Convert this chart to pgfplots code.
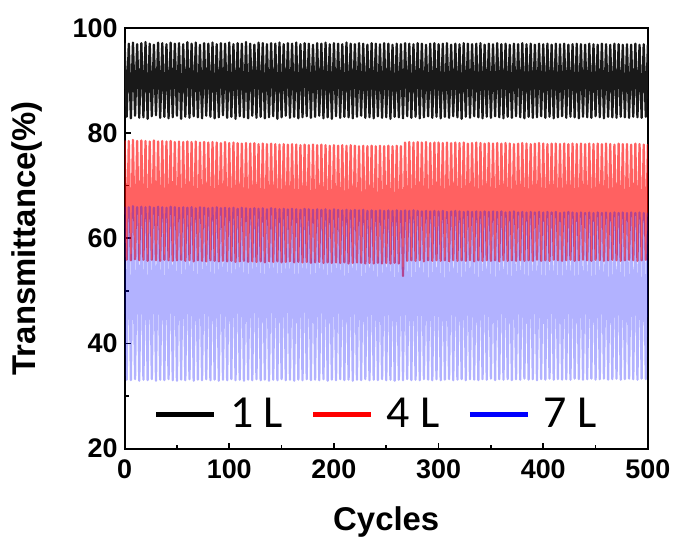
\documentclass[border=0pt]{standalone}
\usepackage{pgfplots}
\usepackage{pgfplotstable}
\pgfplotsset{compat=1.18}
\usepackage{fontspec}
\setmainfont{Liberation Sans}
\newfontfamily\carlito{Carlito}

\pgfplotstableread[row sep=\\]{x y\\
0 97.1\\ 2 83.1\\ 4 97.0\\ 6 82.8\\ 8 97.2\\ 10 83.3\\ 12 96.9\\ 14 82.9\\ 16 97.1\\ 18 83.0\\
20 97.3\\ 22 82.7\\ 24 97.0\\ 26 83.2\\ 28 96.8\\ 30 83.4\\ 32 97.2\\ 34 82.9\\ 36 97.1\\ 38 83.1\\
40 96.9\\ 42 82.8\\ 44 97.2\\ 46 83.0\\ 48 97.0\\ 50 83.3\\ 52 97.1\\ 54 82.7\\ 56 96.9\\ 58 83.1\\
60 97.3\\ 62 82.9\\ 64 97.0\\ 66 83.2\\ 68 97.2\\ 70 83.0\\ 72 96.8\\ 74 82.8\\ 76 97.1\\ 78 83.3\\
80 97.0\\ 82 83.1\\ 84 97.2\\ 86 82.8\\ 88 96.9\\ 90 83.0\\ 92 97.1\\ 94 83.4\\ 96 97.0\\ 98 82.9\\
100 97.2\\ 102 83.1\\ 104 96.9\\ 106 82.7\\ 108 97.1\\ 110 83.2\\ 112 97.0\\ 114 83.0\\ 116 97.3\\ 118 82.8\\
120 97.0\\ 122 83.3\\ 124 96.8\\ 126 82.9\\ 128 97.2\\ 130 83.1\\ 132 97.1\\ 134 82.8\\ 136 96.9\\ 138 83.0\\
140 97.1\\ 142 83.2\\ 144 97.0\\ 146 82.7\\ 148 97.2\\ 150 83.0\\ 152 96.9\\ 154 83.3\\ 156 97.1\\ 158 82.9\\
160 97.0\\ 162 83.1\\ 164 97.2\\ 166 82.8\\ 168 96.9\\ 170 83.0\\ 172 97.1\\ 174 83.2\\ 176 97.0\\ 178 82.9\\
180 96.8\\ 182 83.1\\ 184 97.1\\ 186 83.3\\ 188 97.0\\ 190 82.8\\ 192 97.2\\ 194 83.0\\ 196 96.9\\ 198 82.7\\
200 97.1\\ 202 83.2\\ 204 97.0\\ 206 82.9\\ 208 96.9\\ 210 83.1\\ 212 97.2\\ 214 83.0\\ 216 97.0\\ 218 82.8\\
220 96.9\\ 222 83.1\\ 224 97.1\\ 226 83.3\\ 228 97.0\\ 230 82.9\\ 232 96.8\\ 234 83.0\\ 236 97.1\\ 238 82.8\\
240 97.0\\ 242 83.2\\ 244 96.9\\ 246 82.9\\ 248 97.1\\ 250 83.0\\ 252 97.0\\ 254 82.7\\ 256 96.8\\ 258 83.1\\
260 97.0\\ 262 83.0\\ 264 96.9\\ 266 82.8\\ 268 97.1\\ 270 83.2\\ 272 97.0\\ 274 82.9\\ 276 96.9\\ 278 83.1\\
280 97.1\\ 282 82.8\\ 284 97.0\\ 286 83.0\\ 288 96.8\\ 290 83.2\\ 292 97.0\\ 294 82.9\\ 296 97.1\\ 298 83.1\\
300 96.9\\ 302 82.8\\ 304 97.0\\ 306 83.1\\ 308 97.1\\ 310 82.9\\ 312 96.8\\ 314 83.2\\ 316 97.0\\ 318 83.0\\
320 96.9\\ 322 82.7\\ 324 97.1\\ 326 83.1\\ 328 97.0\\ 330 82.9\\ 332 96.9\\ 334 83.2\\ 336 97.0\\ 338 83.0\\
340 97.1\\ 342 82.8\\ 344 96.8\\ 346 83.1\\ 348 97.0\\ 350 82.9\\ 352 96.9\\ 354 83.2\\ 356 97.1\\ 358 83.0\\
360 96.9\\ 362 82.8\\ 364 97.0\\ 366 83.1\\ 368 96.8\\ 370 82.9\\ 372 97.0\\ 374 83.2\\ 376 96.9\\ 378 83.0\\
380 97.1\\ 382 82.8\\ 384 96.9\\ 386 83.1\\ 388 97.0\\ 390 82.9\\ 392 96.8\\ 394 83.0\\ 396 97.0\\ 398 83.2\\
400 96.9\\ 402 82.9\\ 404 97.0\\ 406 83.1\\ 408 96.8\\ 410 82.8\\ 412 97.0\\ 414 83.0\\ 416 96.9\\ 418 83.2\\
420 97.0\\ 422 82.9\\ 424 96.8\\ 426 83.1\\ 428 96.9\\ 430 83.0\\ 432 97.0\\ 434 82.8\\ 436 96.9\\ 438 83.1\\
440 96.8\\ 442 83.0\\ 444 97.0\\ 446 82.9\\ 448 96.9\\ 450 83.2\\ 452 96.8\\ 454 83.0\\ 456 97.0\\ 458 82.8\\
460 96.9\\ 462 83.1\\ 464 96.8\\ 466 83.0\\ 468 97.0\\ 470 82.9\\ 472 96.9\\ 474 83.1\\ 476 96.8\\ 478 83.0\\
480 96.9\\ 482 82.9\\ 484 96.8\\ 486 83.1\\ 488 97.0\\ 490 83.0\\ 492 96.8\\ 494 82.9\\ 496 96.9\\ 498 83.1\\ 500 96.8\\
}\tabA

\pgfplotstableread[row sep=\\]{x y\\
0 78.6\\ 2 55.9\\ 4 78.5\\ 6 55.8\\ 8 78.7\\ 10 56.0\\ 12 78.5\\ 14 55.8\\ 16 78.6\\ 18 55.9\\
20 78.5\\ 22 55.7\\ 24 78.4\\ 26 55.9\\ 28 78.6\\ 30 55.8\\ 32 78.4\\ 34 55.7\\ 36 78.5\\ 38 55.9\\
40 78.4\\ 42 55.8\\ 44 78.5\\ 46 55.7\\ 48 78.3\\ 50 55.8\\ 52 78.4\\ 54 55.9\\ 56 78.3\\ 58 55.7\\
60 78.4\\ 62 55.8\\ 64 78.3\\ 66 55.6\\ 68 78.4\\ 70 55.8\\ 72 78.2\\ 74 55.7\\ 76 78.3\\ 78 55.6\\
80 78.2\\ 82 55.8\\ 84 78.3\\ 86 55.7\\ 88 78.2\\ 90 55.6\\ 92 78.1\\ 94 55.7\\ 96 78.3\\ 98 55.6\\
100 78.1\\ 102 55.7\\ 104 78.2\\ 106 55.5\\ 108 78.1\\ 110 55.6\\ 112 78.0\\ 114 55.7\\ 116 78.1\\ 118 55.5\\
120 78.0\\ 122 55.6\\ 124 78.1\\ 126 55.5\\ 128 77.9\\ 130 55.6\\ 132 78.0\\ 134 55.4\\ 136 77.9\\ 138 55.6\\
140 78.0\\ 142 55.5\\ 144 77.9\\ 146 55.6\\ 148 77.8\\ 150 55.4\\ 152 77.9\\ 154 55.5\\ 156 77.8\\ 158 55.6\\
160 77.9\\ 162 55.4\\ 164 77.8\\ 166 55.5\\ 168 77.7\\ 170 55.4\\ 172 77.8\\ 174 55.5\\ 176 77.7\\ 178 55.3\\
180 77.8\\ 182 55.4\\ 184 77.7\\ 186 55.5\\ 188 77.8\\ 190 55.3\\ 192 77.7\\ 194 55.4\\ 196 77.6\\ 198 55.3\\
200 77.7\\ 202 55.4\\ 204 77.6\\ 206 55.3\\ 208 77.7\\ 210 55.4\\ 212 77.6\\ 214 55.2\\ 216 77.7\\ 218 55.3\\
220 77.6\\ 222 55.4\\ 224 77.5\\ 226 55.3\\ 228 77.6\\ 230 55.2\\ 232 77.5\\ 234 55.3\\ 236 77.6\\ 238 55.2\\
240 77.5\\ 242 55.3\\ 244 77.6\\ 246 55.2\\ 248 77.5\\ 250 55.3\\ 252 77.6\\ 254 55.2\\ 256 77.5\\ 258 55.3\\
260 77.6\\ 262 55.2\\ 264 77.5\\ 266 52.8\\ 268 78.2\\ 270 55.7\\ 272 78.3\\ 274 55.8\\ 276 78.2\\ 278 55.7\\
280 78.3\\ 282 55.8\\ 284 78.2\\ 286 55.6\\ 288 78.3\\ 290 55.8\\ 292 78.1\\ 294 55.7\\ 296 78.2\\ 298 55.8\\
300 78.2\\ 302 55.7\\ 304 78.1\\ 306 55.8\\ 308 78.2\\ 310 55.6\\ 312 78.1\\ 314 55.8\\ 316 78.2\\ 318 55.7\\
320 78.1\\ 322 55.8\\ 324 78.2\\ 326 55.7\\ 328 78.0\\ 330 55.8\\ 332 78.1\\ 334 55.6\\ 336 78.2\\ 338 55.8\\
340 78.1\\ 342 55.7\\ 344 78.0\\ 346 55.8\\ 348 78.1\\ 350 55.7\\ 352 78.0\\ 354 55.8\\ 356 78.1\\ 358 55.6\\
360 78.0\\ 362 55.8\\ 364 78.1\\ 366 55.7\\ 368 78.0\\ 370 55.8\\ 372 77.9\\ 374 55.7\\ 376 78.0\\ 378 55.8\\
380 78.1\\ 382 55.7\\ 384 78.0\\ 386 55.8\\ 388 77.9\\ 390 55.7\\ 392 78.0\\ 394 55.9\\ 396 78.1\\ 398 55.7\\
400 78.0\\ 402 55.8\\ 404 77.9\\ 406 55.7\\ 408 78.0\\ 410 55.9\\ 412 78.0\\ 414 55.8\\ 416 77.9\\ 418 55.7\\
420 78.0\\ 422 55.8\\ 424 77.9\\ 426 55.9\\ 428 78.0\\ 430 55.7\\ 432 77.9\\ 434 55.8\\ 436 78.0\\ 438 55.9\\
440 77.9\\ 442 55.8\\ 444 78.0\\ 446 55.7\\ 448 77.9\\ 450 55.9\\ 452 78.0\\ 454 55.8\\ 456 77.9\\ 458 55.7\\
460 78.0\\ 462 55.8\\ 464 77.9\\ 466 55.9\\ 468 77.8\\ 470 55.8\\ 472 78.0\\ 474 55.7\\ 476 77.9\\ 478 55.8\\
480 77.9\\ 482 55.9\\ 484 77.8\\ 486 55.8\\ 488 78.0\\ 490 55.7\\ 492 77.9\\ 494 55.8\\ 496 77.8\\ 498 55.9\\ 500 77.9\\
}\tabB

\pgfplotstableread[row sep=\\]{x y\\
0 66.0\\ 2 33.1\\ 4 65.9\\ 6 33.0\\ 8 66.1\\ 10 33.2\\ 12 65.9\\ 14 32.9\\ 16 66.0\\ 18 33.1\\
20 65.9\\ 22 33.0\\ 24 66.0\\ 26 33.2\\ 28 65.8\\ 30 32.9\\ 32 66.0\\ 34 33.1\\ 36 65.9\\ 38 33.0\\
40 65.8\\ 42 33.2\\ 44 66.0\\ 46 33.0\\ 48 65.9\\ 50 32.9\\ 52 65.8\\ 54 33.1\\ 56 65.9\\ 58 33.0\\
60 65.8\\ 62 33.2\\ 64 65.9\\ 66 32.9\\ 68 65.7\\ 70 33.1\\ 72 65.9\\ 74 33.0\\ 76 65.8\\ 78 33.2\\
80 65.7\\ 82 33.0\\ 84 65.8\\ 86 33.1\\ 88 65.9\\ 90 32.9\\ 92 65.7\\ 94 33.1\\ 96 65.8\\ 98 33.0\\
100 65.7\\ 102 33.2\\ 104 65.8\\ 106 33.0\\ 108 65.6\\ 110 33.1\\ 112 65.8\\ 114 32.9\\ 116 65.7\\ 118 33.1\\
120 65.6\\ 122 33.0\\ 124 65.7\\ 126 33.2\\ 128 65.6\\ 130 33.0\\ 132 65.7\\ 134 33.1\\ 136 65.5\\ 138 32.9\\
140 65.7\\ 142 33.1\\ 144 65.6\\ 146 33.0\\ 148 65.5\\ 150 33.2\\ 152 65.6\\ 154 33.0\\ 156 65.5\\ 158 33.1\\
160 65.6\\ 162 32.9\\ 164 65.5\\ 166 33.1\\ 168 65.4\\ 170 33.0\\ 172 65.6\\ 174 33.2\\ 176 65.5\\ 178 33.0\\
180 65.4\\ 182 33.1\\ 184 65.5\\ 186 33.0\\ 188 65.4\\ 190 33.2\\ 192 65.5\\ 194 32.9\\ 196 65.3\\ 198 33.1\\
200 65.5\\ 202 33.0\\ 204 65.4\\ 206 33.2\\ 208 65.3\\ 210 33.0\\ 212 65.4\\ 214 33.1\\ 216 65.3\\ 218 32.9\\
220 65.4\\ 222 33.1\\ 224 65.3\\ 226 33.0\\ 228 65.4\\ 230 33.2\\ 232 65.2\\ 234 33.0\\ 236 65.3\\ 238 33.1\\
240 65.2\\ 242 33.0\\ 244 65.3\\ 246 33.2\\ 248 65.2\\ 250 33.0\\ 252 65.3\\ 254 33.1\\ 256 65.2\\ 258 32.9\\
260 65.3\\ 262 33.1\\ 264 65.2\\ 266 33.0\\ 268 65.3\\ 270 33.2\\ 272 65.2\\ 274 33.0\\ 276 65.3\\ 278 33.1\\
280 65.2\\ 282 33.0\\ 284 65.1\\ 286 33.2\\ 288 65.2\\ 290 33.1\\ 292 65.1\\ 294 33.0\\ 296 65.2\\ 298 33.2\\
300 65.1\\ 302 33.0\\ 304 65.2\\ 306 33.1\\ 308 65.0\\ 310 33.2\\ 312 65.1\\ 314 33.0\\ 316 65.2\\ 318 33.1\\
320 65.1\\ 322 33.2\\ 324 65.0\\ 326 33.0\\ 328 65.1\\ 330 33.2\\ 332 65.0\\ 334 33.1\\ 336 65.1\\ 338 33.0\\
340 65.0\\ 342 33.2\\ 344 65.1\\ 346 33.1\\ 348 65.0\\ 350 33.3\\ 352 65.1\\ 354 33.0\\ 356 65.0\\ 358 33.2\\
360 65.1\\ 362 33.1\\ 364 64.9\\ 366 33.2\\ 368 65.0\\ 370 33.0\\ 372 65.1\\ 374 33.2\\ 376 64.9\\ 378 33.1\\
380 65.0\\ 382 33.3\\ 384 64.9\\ 386 33.1\\ 388 65.0\\ 390 33.2\\ 392 64.9\\ 394 33.0\\ 396 65.0\\ 398 33.2\\
400 64.9\\ 402 33.1\\ 404 65.0\\ 406 33.3\\ 408 64.9\\ 410 33.1\\ 412 65.0\\ 414 33.2\\ 416 64.8\\ 418 33.1\\
420 64.9\\ 422 33.2\\ 424 65.0\\ 426 33.1\\ 428 64.9\\ 430 33.3\\ 432 64.8\\ 434 33.2\\ 436 64.9\\ 438 33.1\\
440 64.8\\ 442 33.2\\ 444 64.9\\ 446 33.3\\ 448 64.8\\ 450 33.1\\ 452 64.9\\ 454 33.2\\ 456 64.8\\ 458 33.3\\
460 64.9\\ 462 33.1\\ 464 64.8\\ 466 33.2\\ 468 64.9\\ 470 33.3\\ 472 64.8\\ 474 33.1\\ 476 64.9\\ 478 33.2\\
480 64.8\\ 482 33.3\\ 484 64.9\\ 486 33.2\\ 488 64.8\\ 490 33.1\\ 492 64.9\\ 494 33.3\\ 496 64.8\\ 498 33.2\\ 500 64.8\\
}\tabC

\begin{document}
\begin{tikzpicture}
\begin{axis}[
  scale only axis, width=262.5pt, height=211pt,
  xmin=0, xmax=500, ymin=20, ymax=100,
  xtick={0,100,...,500}, ytick={20,40,...,100},
  minor x tick num=1, minor y tick num=1,
  tick align=inside, xtick pos=bottom, ytick pos=left,
  major tick length=3pt, minor tick length=2pt,
  axis line style={line width=1pt},
  every tick/.append style={line width=0.8pt, black},
  ticklabel style={font=\fontsize{13.5}{13.5}\selectfont\bfseries},
  /pgf/number format/assume math mode=true,
  xticklabel style={anchor=base, yshift=-15pt},
  xlabel={Cycles}, ylabel={Transmittance(\%)},
  label style={font=\fontsize{16.5}{16.5}\selectfont\bfseries},
  xlabel style={at={(axis description cs:0.5,-0.194)}, anchor=base},
  ylabel style={at={(axis description cs:-0.186,0.5)}, anchor=center},
  legend style={at={(axis description cs:0.483,0.081)}, anchor=center, draw=none, fill=none,
    font=\carlito\fontsize{23}{23}\selectfont,
    /tikz/every odd column/.append style={column sep=5pt},
    /tikz/every even column/.append style={column sep=12pt}},
  legend columns=-1,
  legend image code/.code={\draw[#1, line width=2.2pt] (0pt,0pt) -- (29pt,0pt);},
]
\addlegendimage{black}\addlegendentry{1 L}
\addlegendimage{red}\addlegendentry{4 L}
\addlegendimage{blue}\addlegendentry{7 L}
\addplot[black!90, line width=1.15pt, line join=round, forget plot] table {\tabA};
\addplot[red, opacity=0.62, line width=1.15pt, line join=round, forget plot] table {\tabB};
\addplot[blue, opacity=0.3, line width=1.15pt, line join=round, forget plot] table {\tabC};
\end{axis}
\path[use as bounding box] ([xshift=-62.5pt,yshift=-45pt]current axis.south west) rectangle ([xshift=13.5pt,yshift=14pt]current axis.north east);
\end{tikzpicture}
\end{document}
